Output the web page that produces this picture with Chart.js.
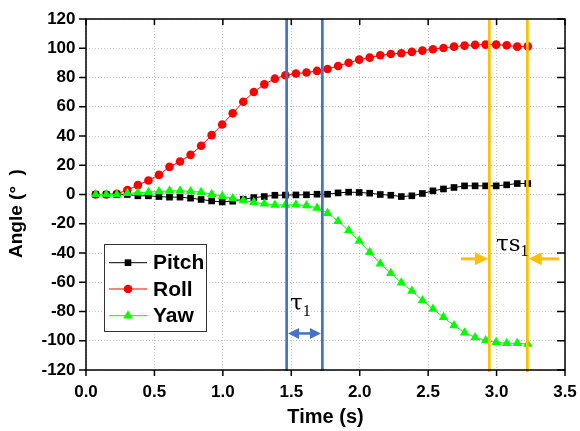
<!DOCTYPE html>
<html><head><meta charset="utf-8">
<script src="https://cdn.jsdelivr.net/npm/chart.js@4.4.1/dist/chart.umd.min.js"></script>
<style>html,body{margin:0;padding:0;background:#fff;}canvas{display:block;}</style>
</head><body>
<canvas id="c" width="580" height="431"></canvas>
<script>
// ---- data ----
const times = [0.071,0.148,0.225,0.302,0.379,0.456,0.533,0.610,0.687,0.764,0.841,0.918,0.995,1.072,1.149,1.226,1.303,1.380,1.457,1.534,1.611,1.688,1.765,1.842,1.919,1.996,2.073,2.150,2.227,2.304,2.381,2.458,2.535,2.612,2.689,2.766,2.843,2.920,2.997,3.074,3.151,3.228];
const pitch = [0,0,0,0,-0.9,-0.9,-1.4,-1.8,-1.8,-2.5,-3.4,-4.4,-5.1,-4.6,-3.2,-2.1,-1.4,-0.5,-0.4,-0.3,-0.2,0.2,0.2,1.1,1.6,1.4,0.9,0,-0.5,-1.4,-0.9,0.7,2.5,3.8,4.8,5.9,5.9,5.9,5.9,6.6,7.5,7.5];
const roll = [0,0,0.5,3,6.4,9.6,13.4,18.9,22.6,27.1,33.3,40.6,47.9,55.5,63.4,70.1,75.3,79.2,81.5,82.7,83.4,84.5,85.8,87.9,90.1,92.2,93.6,95.2,96.1,96.6,97.5,98.4,99.3,100.2,101.1,101.8,102.3,102.5,102.5,102,101.1,101.3];
const yaw = [0,0,0,0.8,1.2,1.6,2.0,2.5,2.5,2.1,1.6,0.2,-1.2,-2.7,-4.1,-5.3,-6.4,-7.1,-7.2,-7.0,-7.5,-9.2,-12.8,-18.3,-24.7,-31.8,-39.5,-47.3,-53.9,-60.3,-66.0,-72.4,-78.3,-84.0,-89.5,-94.5,-97.7,-99.8,-101.0,-101.7,-101.7,-102.3];
const seriesNames = ['Pitch','Roll','Yaw'];
const xTickLabels = ['0.0','0.5','1.0','1.5','2.0','2.5','3.0','3.5'];
const yTickLabels = ['-120','-100','-80','-60','-40','-20','0','20','40','60','80','100','120'];
const tauLines = [1.466, 1.727];
const tauSLines = [2.947, 3.225];
const tauArrowLevel = -95;
const tauSArrowLevel = -44;
const tauSArrowOuter = [2.74, 3.456];
const xTitle = 'Time (s)';
const yTitle = 'Angle (°  )';

const toXY = arr => arr.map((v, i) => ({x: times[i], y: v}));

const BLUE = '#4472C4', ORANGE = '#FFC000';

function line(ctx, x1, y1, x2, y2) { ctx.beginPath(); ctx.moveTo(x1, y1); ctx.lineTo(x2, y2); ctx.stroke(); }
function head(ctx, tipX, y, dir, len, half) {
  ctx.beginPath(); ctx.moveTo(tipX, y); ctx.lineTo(tipX - dir * len, y - half); ctx.lineTo(tipX - dir * len, y + half); ctx.closePath(); ctx.fill();
}

const deco = {
  id: 'deco',
  afterDatasetsDraw(chart) {
    const {ctx, chartArea: a, scales: {x, y}} = chart;
    ctx.save();
    // marker lines
    ctx.lineWidth = 2.7;
    ctx.strokeStyle = BLUE;
    tauLines.forEach(v => { const p = x.getPixelForValue(v); line(ctx, p, a.top, p, a.bottom + 1); });
    ctx.strokeStyle = ORANGE;
    tauSLines.forEach(v => { const p = x.getPixelForValue(v); line(ctx, p, a.top, p, a.bottom + 2); });

    // blue double arrow
    const b1 = x.getPixelForValue(tauLines[0]) + 1.4, b2 = x.getPixelForValue(tauLines[1]) - 1.4;
    const by = y.getPixelForValue(tauArrowLevel);
    ctx.strokeStyle = BLUE; ctx.fillStyle = BLUE; ctx.lineWidth = 2.5;
    line(ctx, b1 + 8, by, b2 - 8, by);
    head(ctx, b1, by, -1, 11, 5.5);
    head(ctx, b2, by, 1, 11, 5.5);

    // orange arrows
    const o1 = x.getPixelForValue(tauSLines[0]) - 1.4, o2 = x.getPixelForValue(tauSLines[1]) + 1.4;
    const oy = y.getPixelForValue(tauSArrowLevel);
    ctx.strokeStyle = ORANGE; ctx.fillStyle = ORANGE; ctx.lineWidth = 3;
    line(ctx, x.getPixelForValue(tauSArrowOuter[0]), oy, o1 - 10, oy);
    head(ctx, o1, oy, 1, 13, 6.5);
    line(ctx, x.getPixelForValue(tauSArrowOuter[1]), oy, o2 + 10, oy);
    head(ctx, o2, oy, -1, 13, 6.5);

    // tau labels
    ctx.fillStyle = '#000'; ctx.textAlign = 'left'; ctx.textBaseline = 'alphabetic';
    ctx.font = '23px "DejaVu Serif"';
    const t1x = b1 + 2;
    ctx.fillText('τ', t1x, by - 23);
    const w1 = ctx.measureText('τ').width;
    ctx.font = '16px "Liberation Serif"';
    ctx.fillText('1', t1x + w1, by - 17);
    ctx.font = '23px "DejaVu Serif"';
    const t2x = o1 + 8;
    ctx.fillText('τs', t2x, oy - 8);
    const w2 = ctx.measureText('τs').width;
    ctx.font = '16px "Liberation Serif"';
    ctx.fillText('1', t2x + w2, oy - 3);

    // frame
    ctx.strokeStyle = '#000'; ctx.lineWidth = 1.5;
    ctx.strokeRect(a.left, a.top, a.right - a.left, a.bottom - a.top);
    // tick marks
    x.ticks.forEach(t => { const p = x.getPixelForValue(t.value); line(ctx, p, a.bottom, p, a.bottom + 6); line(ctx, p, a.top, p, a.top + 6); });
    y.ticks.forEach(t => { const p = y.getPixelForValue(t.value); line(ctx, a.left - 7, p, a.left, p); line(ctx, a.right - 8, p, a.right, p); });

    // legend
    ctx.fillStyle = '#fff'; ctx.fillRect(104.5, 244.5, 102, 87);
    ctx.strokeStyle = '#333'; ctx.lineWidth = 1; ctx.strokeRect(104.5, 244.5, 102, 87);
    const rows = [262.7, 289, 315.7];
    seriesNames.forEach((name, k) => {
      const ds = chart.data.datasets.find(d => d.label === name);
      const ly = rows[k];
      ctx.strokeStyle = ds.borderColor; ctx.lineWidth = 1;
      line(ctx, 109, ly, 147, ly);
      ctx.fillStyle = ds.pointBackgroundColor;
      Chart.helpers.drawPoint(ctx, {pointStyle: ds.pointStyle, radius: ds.pointRadius, rotation: 0, borderWidth: 0}, 128, ly);
      ctx.fillStyle = '#000'; ctx.font = 'bold 21px "Liberation Sans"'; ctx.textBaseline = 'middle';
      ctx.fillText(name, 153, ly + 1);
    });

    // y title
    ctx.save();
    ctx.translate(21.6, 258);
    ctx.rotate(-Math.PI / 2);
    ctx.font = 'bold 19px "Liberation Sans"'; ctx.textAlign = 'left'; ctx.textBaseline = 'alphabetic'; ctx.fillStyle = '#000';
    ctx.fillText(yTitle, 0, 0);
    ctx.restore();
    ctx.restore();
  }
};

const tickFont = {family: '"Liberation Sans"', size: 17, weight: 'bold'};

new Chart(document.getElementById('c'), {
  type: 'line',
  data: {
    datasets: [
      {label: 'Yaw', data: toXY(yaw), borderColor: '#00FF00', pointBackgroundColor: '#00FF00', pointStyle: 'triangle', pointRadius: 5.5, order: 0},
      {label: 'Pitch', data: toXY(pitch), borderColor: '#000000', pointBackgroundColor: '#000000', pointStyle: 'rect', pointRadius: 4.7, order: 1},
      {label: 'Roll', data: toXY(roll), borderColor: '#FF0000', pointBackgroundColor: '#FF0000', pointStyle: 'circle', pointRadius: 4.3, order: 2}
    ].map(d => Object.assign(d, {borderWidth: 1, pointBorderWidth: 0, pointHoverRadius: d.pointRadius, tension: 0, fill: false}))
  },
  options: {
    responsive: false,
    animation: false,
    devicePixelRatio: 1,
    layout: {padding: {top: 19, right: 15, left: 0, bottom: 0}},
    plugins: {legend: {display: false}, tooltip: {enabled: false}},
    scales: {
      x: {
        type: 'linear', min: 0, max: 3.5,
        ticks: {stepSize: 0.5, padding: 12, color: '#000', font: tickFont, maxRotation: 0,
          callback: (v, i) => xTickLabels[i]},
        grid: {color: '#c4c4c4', lineWidth: 1, drawTicks: false},
        border: {display: false, dash: [1, 2]},
        title: {display: true, text: xTitle, color: '#000', font: {family: '"Liberation Sans"', size: 20, weight: 'bold'}, padding: {top: 0, bottom: 2}},
        afterFit: s => { s.height = 61; s.paddingLeft = 0; s.paddingRight = 0; }
      },
      y: {
        type: 'linear', min: -120, max: 120,
        ticks: {stepSize: 20, padding: 10.5, color: '#000', font: tickFont,
          callback: (v, i) => yTickLabels[i]},
        grid: {color: '#c4c4c4', lineWidth: 1, drawTicks: false},
        border: {display: false, dash: [1, 2]},
        afterFit: s => { s.width = 86; s.paddingTop = 0; s.paddingBottom = 0; }
      }
    }
  },
  plugins: [deco]
});
</script>
</body></html>
